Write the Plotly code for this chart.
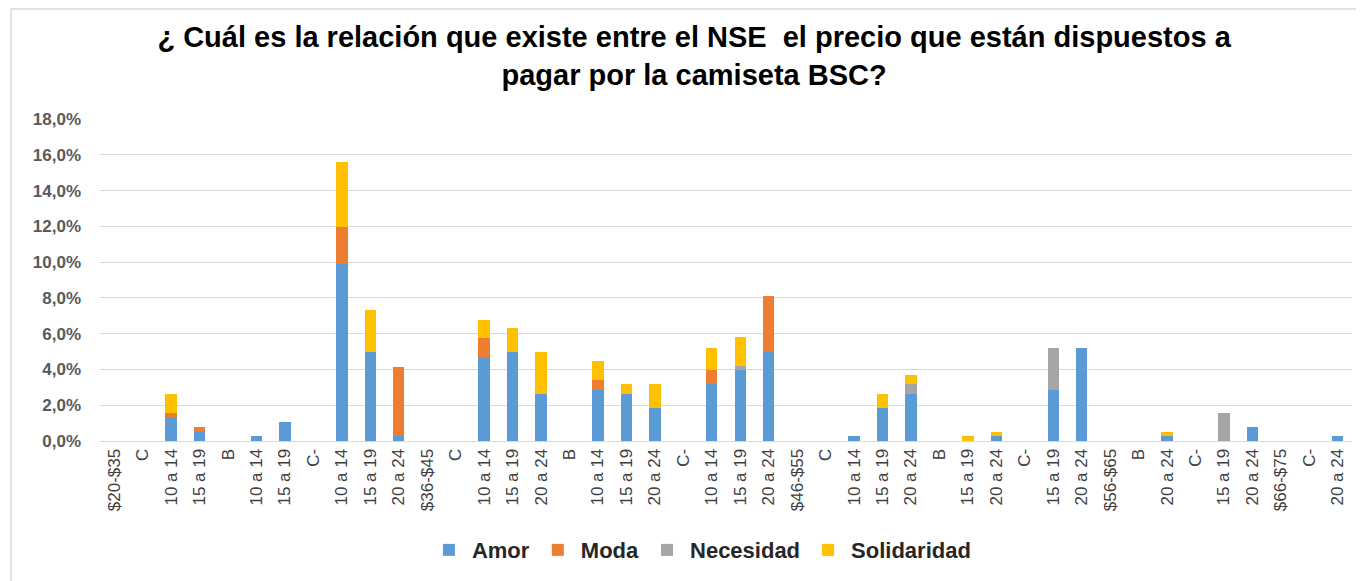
import plotly.graph_objects as go

labels = ["$20-$35", "C", "10 a 14", "15 a 19", "B", "10 a 14", "15 a 19", "C-", "10 a 14", "15 a 19", "20 a 24",
          "$36-$45", "C", "10 a 14", "15 a 19", "20 a 24", "B", "10 a 14", "15 a 19", "20 a 24", "C-", "10 a 14", "15 a 19", "20 a 24",
          "$46-$55", "C", "10 a 14", "15 a 19", "20 a 24", "B", "15 a 19", "20 a 24", "C-", "15 a 19", "20 a 24",
          "$56-$65", "B", "20 a 24", "C-", "15 a 19", "20 a 24",
          "$66-$75", "C-", "20 a 24"]

amor = [0, 0, 1.34, 0.52, 0, 0.26, 1.04, 0, 9.9, 5.0, 0.26,
        0, 0, 4.7, 5.0, 2.65, 0, 2.87, 2.65, 1.87, 0, 3.17, 3.96, 5.0,
        0, 0, 0.26, 1.87, 2.65, 0, 0, 0.26, 0, 2.87, 5.22,
        0, 0, 0.26, 0, 0, 0.78,
        0, 0, 0.26]
moda = [0, 0, 0.22, 0.28, 0, 0, 0, 0, 2.08, 0, 3.9,
        0, 0, 1.05, 0, 0, 0, 0.52, 0, 0, 0, 0.79, 0, 3.13,
        0, 0, 0, 0, 0, 0, 0, 0, 0, 0, 0,
        0, 0, 0, 0, 0, 0,
        0, 0, 0]
necesidad = [0, 0, 0, 0, 0, 0, 0, 0, 0, 0, 0,
             0, 0, 0, 0, 0, 0, 0, 0, 0, 0, 0, 0.26, 0,
             0, 0, 0, 0, 0.52, 0, 0, 0, 0, 2.35, 0,
             0, 0, 0, 0, 1.57, 0,
             0, 0, 0]
solidaridad = [0, 0, 1.08, 0, 0, 0, 0, 0, 3.64, 2.3, 0,
               0, 0, 1.04, 1.3, 2.34, 0, 1.1, 0.52, 1.3, 0, 1.26, 1.57, 0,
               0, 0, 0, 0.78, 0.52, 0, 0.26, 0.26, 0, 0, 0,
               0, 0, 0.26, 0, 0, 0,
               0, 0, 0]

series = [("Amor", amor, "#5B9BD5"), ("Moda", moda, "#ED7D31"),
          ("Necesidad", necesidad, "#A5A5A5"), ("Solidaridad", solidaridad, "#FFC000")]

xpos = list(range(len(labels)))

ML, MR, MT, MB = 92, 20, 111, 148
PW = 1364 - ML - MR
PH = 581 - MT - MB

fig = go.Figure()
for name, vals, color in series:
    fig.add_trace(go.Bar(x=xpos, y=vals, name=name, marker=dict(color=color, line=dict(width=0))))

fig.update_layout(
    barmode="stack",
    bargap=0.6,
    width=1364, height=581,
    paper_bgcolor="white", plot_bgcolor="white",
    margin=dict(l=ML, r=MR, t=MT, b=MB),
    separators=",.",
    font=dict(family="Liberation Sans, Arial, sans-serif", color="#595959"),
    title=dict(
        text="¿ Cuál es la relación que existe entre el NSE  el precio que están dispuestos a<br>pagar por la camiseta BSC?",
        x=0.503, xanchor="center", xref="container",
        y=0.933, yanchor="middle", yref="container",
        font=dict(family="Liberation Sans, Arial, sans-serif", size=29, color="#000000", weight="bold"),
    ),
    xaxis=dict(
        tickmode="array", tickvals=xpos, ticktext=labels,
        tickangle=-90, range=[-0.5, len(labels) - 0.5],
        showgrid=False, zeroline=False, showline=True, linecolor="#D9D9D9", linewidth=1,
        ticks="", tickfont=dict(size=17, color="#404040"),
    ),
    yaxis=dict(
        range=[0, 18], dtick=2, tickformat=".1f", ticksuffix="%",
        showgrid=True, gridcolor="#D9D9D9", gridwidth=1, zeroline=False,
        showline=False, ticks="", ticklabelstandoff=18,
        tickfont=dict(size=17, color="#595959", weight="bold"),
    ),
    legend=dict(
        orientation="h", x=0.508, xanchor="center", xref="container",
        y=0.067, yanchor="middle", yref="container",
        font=dict(size=22, color="#262626", weight="bold"),
        itemwidth=36,
        traceorder="normal",
    ),
    shapes=[dict(type="rect", xref="paper", yref="paper",
                 x0=(3 - ML) / PW, x1=1 + (MR + 10) / PW,
                 y0=-(MB + 10) / PH, y1=1 + (MT - 1) / PH,
                 line=dict(color="#D9D9D9", width=1.5), fillcolor="rgba(0,0,0,0)", layer="below")],
)

fig.write_html("out.html")
